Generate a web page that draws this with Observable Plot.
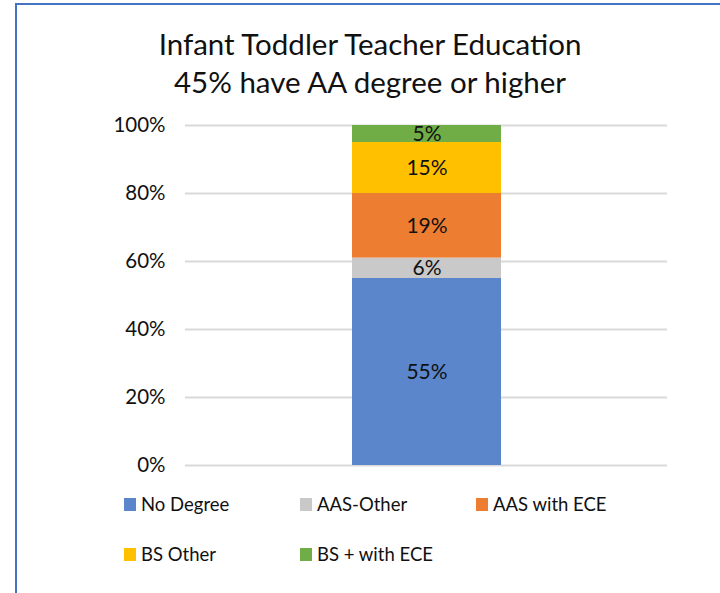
<!DOCTYPE html>
<html>
<head>
<meta charset="utf-8">
<script src="https://cdn.jsdelivr.net/npm/d3@7"></script>
<script src="https://cdn.jsdelivr.net/npm/@observablehq/plot@0.6"></script>
<style>
  html, body { margin: 0; padding: 0; background: #fff; }
  #wrap { position: relative; width: 720px; height: 593px; overflow: hidden; font-family: Lato, "Open Sans", sans-serif; }
  #frame { position: absolute; left: 15px; top: 3px; width: 720px; height: 600px; border-left: 2px solid #4472c4; border-top: 2px solid #4472c4; }
  #title { position: absolute; left: 0; width: 740px; top: 25px; text-align: center; font-size: 29.5px; line-height: 38px; color: #111; }
  #chart { position: absolute; left: 0; top: 0; }
  .leg { position: absolute; font-size: 18.5px; color: #111; display: flex; align-items: center; white-space: nowrap; }
  .leg span.sw { display: inline-block; width: 12px; height: 13px; margin-right: 5px; }
</style>
</head>
<body>
<div id="wrap">
  <div id="frame"></div>
  <div id="chart"></div>
  <div id="title">Infant Toddler Teacher Education<br>45% have AA degree or higher</div>
  <div id="legend"></div>
</div>
<script>
const categories = ["No Degree", "AAS-Other", "AAS with ECE", "BS Other", "BS + with ECE"];
const values = [55, 6, 19, 15, 5];
const colors = ["#5b86cb", "#c9c9c9", "#ed7d31", "#ffc000", "#70ad47"];
const yTicks = [0, 20, 40, 60, 80, 100];

const data = categories.map((c, i) => ({ group: "All", category: c, value: values[i] }));

const plot = Plot.plot({
  width: 720,
  height: 593,
  marginTop: 125,
  marginBottom: 128,
  marginLeft: 185,
  marginRight: 53,
  style: { fontFamily: "Lato, 'Open Sans', sans-serif", background: "transparent" },
  x: { type: "band", domain: ["All"], padding: 0.528, axis: null },
  y: { domain: [0, 100] },
  color: { domain: categories, range: colors },
  marks: [
    Plot.gridY(yTicks, { stroke: "#d9d9d9", strokeWidth: 2, strokeOpacity: 1 }),
    Plot.axisY(yTicks, { tickSize: 0, tickPadding: 20, tickFormat: d => d + "%", fontSize: 20.5, fill: "#111", label: null }),
    Plot.barY(data, Plot.stackY({ x: "group", y: "value", fill: "category", z: "category", order: categories })),
    Plot.text(data, Plot.stackY({ x: "group", y: "value", z: "category", order: categories, text: d => d.value + "%", fontSize: 21, fill: "#111" }))
  ]
});
document.getElementById("chart").appendChild(plot);

const legendPos = [[124, 504], [300, 504], [476, 504], [124, 554], [300, 554]];
const legend = document.getElementById("legend");
categories.forEach((c, i) => {
  const d = document.createElement("div");
  d.className = "leg";
  d.style.left = legendPos[i][0] + "px";
  d.style.top = (legendPos[i][1] - 12) + "px";
  d.style.height = "24px";
  d.innerHTML = `<span class="sw" style="background:${colors[i]}"></span>${c}`;
  legend.appendChild(d);
});
</script>
</body>
</html>
